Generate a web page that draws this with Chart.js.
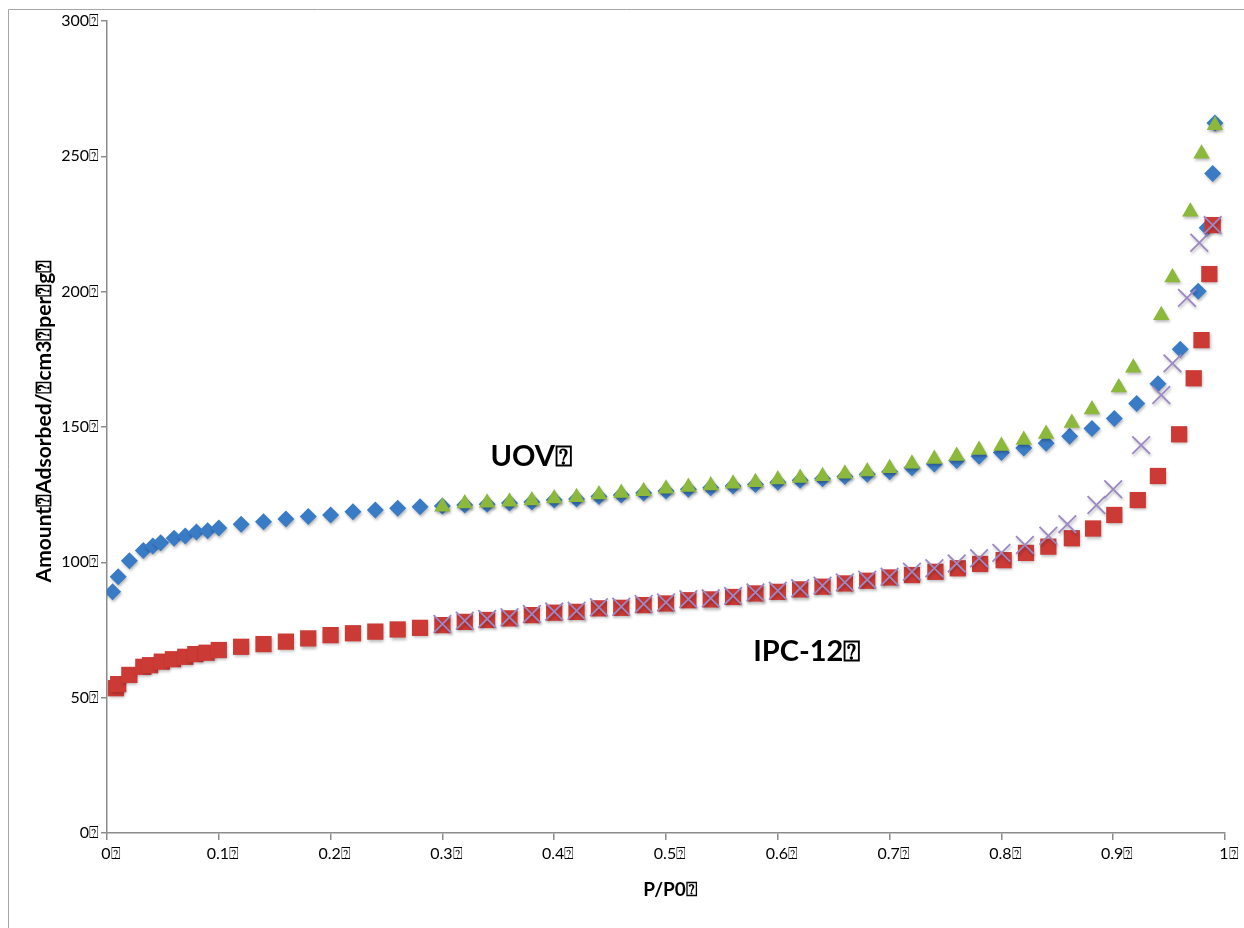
<!DOCTYPE html>
<html>
<head>
<meta charset="utf-8">
<title>UOV / IPC-12 isotherms</title>
<script src="https://cdn.jsdelivr.net/npm/chart.js@4.4.1/dist/chart.umd.min.js"></script>
<style>
  html, body { margin: 0; padding: 0; background: #fff; }
  canvas { display: block; }
</style>
</head>
<body>
<canvas id="isotherm" width="1244" height="928"></canvas>
<script>
const BOX = '\u2370';

// UOV adsorption (blue diamonds)
const uovAdsX = [0.005, 0.010, 0.020, 0.0325, 0.041, 0.048, 0.060, 0.070, 0.080, 0.090, 0.100,
  0.12, 0.14, 0.16, 0.18, 0.20, 0.22, 0.24, 0.26, 0.28, 0.30, 0.32, 0.34, 0.36, 0.38, 0.40,
  0.42, 0.44, 0.46, 0.48, 0.50, 0.52, 0.54, 0.56, 0.58, 0.60, 0.62, 0.64, 0.66, 0.68, 0.70,
  0.72, 0.74, 0.76, 0.78, 0.80, 0.82, 0.84, 0.861, 0.881, 0.901, 0.921, 0.940, 0.960, 0.976,
  0.984, 0.989, 0.991];
const uovAdsY = [89.1, 94.7, 100.6, 104.4, 106.0, 107.2, 108.9, 109.7, 111.2, 111.7, 112.7,
  114.1, 115.0, 116.0, 116.9, 117.5, 118.7, 119.3, 120.0, 120.5, 120.8, 121.2, 121.5, 121.9, 122.3, 123.0,
  123.4, 124.3, 124.9, 125.6, 126.4, 127.0, 127.6, 128.2, 128.8, 129.6, 130.3, 130.9, 131.7, 132.5, 133.5,
  134.9, 136.3, 137.6, 139.2, 140.6, 142.2, 144.0, 146.6, 149.4, 153.1, 158.7, 166.0, 178.7, 200.2,
  223.6, 243.7, 262.3];

// UOV desorption (green triangles)
const uovDesX = [0.30, 0.32, 0.34, 0.36, 0.38, 0.40, 0.42, 0.44, 0.46, 0.48, 0.50, 0.52, 0.54, 0.56,
  0.58, 0.60, 0.62, 0.64, 0.66, 0.68, 0.70, 0.72, 0.74, 0.76, 0.78, 0.80, 0.82, 0.84,
  0.863, 0.881, 0.905, 0.918, 0.943, 0.953, 0.969, 0.979, 0.991];
const uovDesY = [120.5, 121.7, 122.0, 122.4, 122.8, 123.6, 124.0, 125.1, 125.6, 126.3, 127.2, 127.8, 128.4, 129.0,
  129.6, 130.6, 131.2, 131.8, 132.7, 133.6, 134.8, 136.4, 138.2, 139.3, 141.5, 143.0, 145.2, 147.4,
  151.5, 156.5, 164.6, 171.9, 191.3, 205.2, 229.5, 251.0, 261.5];

// IPC-12 adsorption (red squares)
const ipcAdsX = [0.008, 0.010, 0.020, 0.0325, 0.0385, 0.049, 0.059, 0.070, 0.079, 0.089, 0.100,
  0.12, 0.14, 0.16, 0.18, 0.20, 0.22, 0.24, 0.26, 0.28, 0.30, 0.32, 0.34, 0.36, 0.38, 0.40,
  0.42, 0.44, 0.46, 0.48, 0.50, 0.52, 0.54, 0.56, 0.58, 0.60, 0.62, 0.64, 0.66, 0.68, 0.70,
  0.72, 0.741, 0.761, 0.781, 0.802, 0.822, 0.842, 0.863, 0.882, 0.901, 0.922, 0.940, 0.959,
  0.972, 0.979, 0.986, 0.989];
const ipcAdsY = [53.5, 55.0, 58.4, 61.4, 62.0, 63.3, 64.2, 65.1, 66.1, 66.6, 67.6,
  68.8, 69.8, 70.7, 71.9, 73.1, 73.8, 74.4, 75.2, 75.8, 76.8, 78.0, 78.7, 79.3, 80.5, 81.4,
  81.7, 83.0, 83.2, 84.2, 84.8, 86.0, 86.3, 87.2, 88.5, 89.1, 90.0, 91.0, 92.2, 93.2, 94.4,
  95.3, 96.5, 97.8, 99.4, 100.8, 103.5, 105.8, 108.9, 112.5, 117.5, 123.0, 131.9, 147.3,
  168.0, 182.1, 206.5, 224.6];

// IPC-12 desorption (purple crosses)
const ipcDesX = [0.30, 0.32, 0.34, 0.36, 0.38, 0.40, 0.42, 0.44, 0.46, 0.48, 0.50, 0.52, 0.54, 0.56,
  0.58, 0.60, 0.62, 0.64, 0.66, 0.68, 0.70, 0.72, 0.74, 0.76, 0.78, 0.80, 0.821, 0.842,
  0.859, 0.885, 0.900, 0.925, 0.943, 0.953, 0.966, 0.977, 0.989];
const ipcDesY = [77.2, 78.4, 79.1, 79.7, 80.9, 81.8, 82.1, 83.4, 83.6, 84.6, 85.2, 86.4, 86.7, 87.6,
  88.9, 89.5, 90.4, 91.4, 92.6, 93.6, 94.7, 96.5, 97.8, 99.6, 101.5, 103.5, 106.4, 109.8,
  114.1, 121.2, 127.0, 143.3, 161.8, 173.5, 197.7, 218.1, 224.6];

// in-plot labels, anchored at data coordinates (left edge, vertical middle)
const notes = [
  { text: 'UOV' + BOX, x: 0.343, y: 139 },
  { text: 'IPC-12' + BOX, x: 0.578, y: 67 }
];
const xTitle = 'P/P0' + BOX;
const yTitle = 'Amount' + BOX + 'Adsorbed/' + BOX + 'cm3' + BOX + 'per' + BOX + 'g' + BOX;

const FONT = 'Lato, "Open Sans", sans-serif';
const AXIS = '#8c8c8c';

function pts(xs, ys) {
  return xs.map((x, i) => ({ x: x, y: ys[i] }));
}

const shadowPlugin = {
  id: 'shadow',
  beforeDatasetsDraw(chart) {
    const ctx = chart.ctx;
    ctx.save();
    ctx.shadowColor = 'rgba(0,0,0,0.28)';
    ctx.shadowBlur = 3;
    ctx.shadowOffsetX = 1;
    ctx.shadowOffsetY = 2;
  },
  afterDatasetsDraw(chart) {
    chart.ctx.restore();
  }
};

const textPlugin = {
  id: 'texts',
  afterDraw(chart) {
    const ctx = chart.ctx;
    const area = chart.chartArea;
    const xs = chart.scales.x, ys = chart.scales.y;
    ctx.save();
    // outer frame
    ctx.strokeStyle = '#a6a6a6';
    ctx.lineWidth = 1;
    ctx.beginPath();
    ctx.moveTo(8.5, 940);
    ctx.lineTo(8.5, 9.5);
    ctx.lineTo(1260, 9.5);
    ctx.stroke();

    ctx.fillStyle = '#000';
    ctx.font = 'bold 29px ' + FONT;
    ctx.textAlign = 'left';
    ctx.textBaseline = 'middle';
    notes.forEach(n => ctx.fillText(n.text, xs.getPixelForValue(n.x), ys.getPixelForValue(n.y)));

    ctx.font = 'bold 19px ' + FONT;
    ctx.textAlign = 'center';
    ctx.fillText(xTitle, (area.left + area.right) / 2 + 4, area.bottom + 57);

    ctx.font = 'bold 21px ' + FONT;
    ctx.translate(area.left - 63, (area.top + area.bottom) / 2 - 6);
    ctx.rotate(-Math.PI / 2);
    ctx.fillText(yTitle, 0, 0);
    ctx.restore();
  }
};

const ctx = document.getElementById('isotherm').getContext('2d');
new Chart(ctx, {
  type: 'scatter',
  data: {
    datasets: [
      { label: 'UOV adsorption', data: pts(uovAdsX, uovAdsY), order: 4,
        pointStyle: 'rectRot', pointRadius: 8.5, backgroundColor: '#3a7bc6', borderColor: '#3a7bc6', borderWidth: 0 },
      { label: 'IPC-12 adsorption', data: pts(ipcAdsX, ipcAdsY), order: 3,
        pointStyle: 'rect', pointRadius: 11.5, backgroundColor: '#cc3a35', borderColor: '#cc3a35', borderWidth: 0 },
      { label: 'UOV desorption', data: pts(uovDesX, uovDesY), order: 2,
        pointStyle: 'triangle', pointRadius: 9.5, backgroundColor: '#8cb83c', borderColor: '#8cb83c', borderWidth: 0 },
      { label: 'IPC-12 desorption', data: pts(ipcDesX, ipcDesY), order: 1,
        pointStyle: 'crossRot', pointRadius: 12.5, backgroundColor: '#9d88c4', borderColor: '#9d88c4', borderWidth: 1.8 }
    ]
  },
  options: {
    responsive: false,
    animation: false,
    layout: { padding: { left: 0, top: 21, right: 19, bottom: 0 } },
    plugins: {
      legend: { display: false },
      tooltip: { enabled: false }
    },
    scales: {
      x: {
        type: 'linear',
        min: 0,
        max: 1,
        afterFit: (scale) => { scale.height = 95; },
        border: { display: true, color: AXIS, width: 1.5 },
        grid: { display: true, drawOnChartArea: false, drawTicks: true, tickLength: 7, color: AXIS, lineWidth: 1.5 },
        ticks: {
          stepSize: 0.1,
          padding: 4,
          labelOffset: 4,
          color: '#000',
          font: { family: FONT, size: 16 },
          maxRotation: 0,
          callback: (v) => Number(v.toFixed(1)) + BOX
        }
      },
      y: {
        type: 'linear',
        min: 0,
        max: 300,
        afterFit: (scale) => { scale.width = 107; },
        border: { display: true, color: AXIS, width: 1.5 },
        grid: { display: true, drawOnChartArea: false, drawTicks: true, tickLength: 6, color: AXIS, lineWidth: 1.5 },
        ticks: {
          stepSize: 50,
          padding: 2,
          color: '#000',
          font: { family: FONT, size: 16 },
          callback: (v) => v + BOX
        }
      }
    }
  },
  plugins: [shadowPlugin, textPlugin]
});
</script>
</body>
</html>
